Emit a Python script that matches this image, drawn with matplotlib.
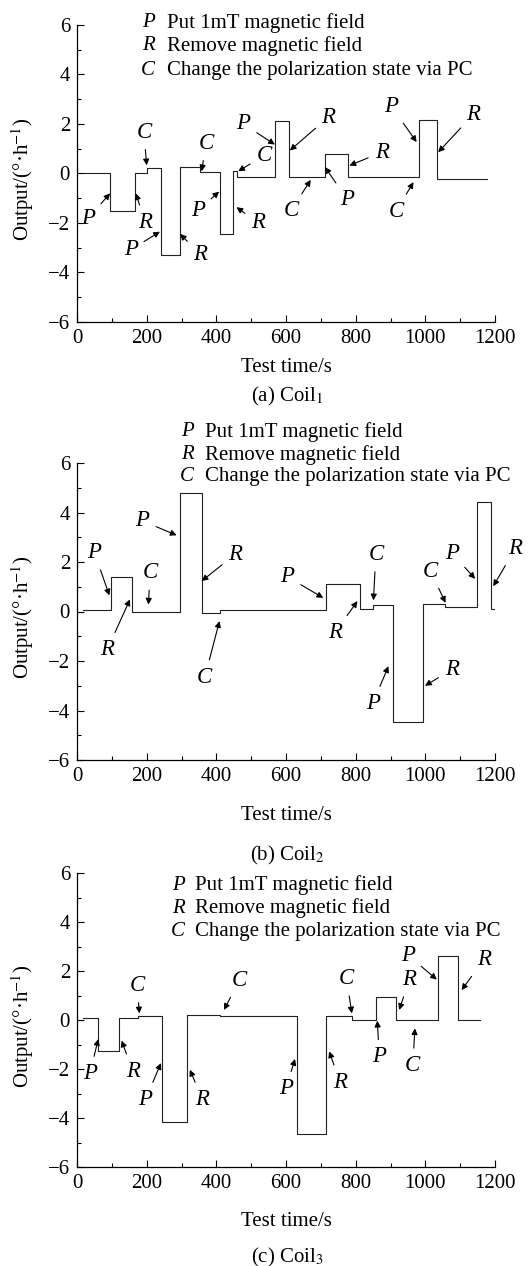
import numpy as np
import matplotlib
matplotlib.use("Agg")
import matplotlib.pyplot as plt
from matplotlib.ticker import MultipleLocator

plt.rcParams['font.family'] = ['Liberation Serif', 'DejaVu Serif']
plt.rcParams['mathtext.fontset'] = 'stix'
plt.rcParams['font.size'] = 15

# ---- data: step traces (breakpoints in s, level between consecutive breaks) ----
coil1_breaks = [18, 95, 167, 200, 240, 297, 353, 410, 447, 460, 568, 610, 712, 777, 982, 1034, 1178]
coil1_levels = [0.0, -1.5, 0.02, 0.22, -3.28, 0.25, 0.05, -2.45, 0.1, -0.13, 2.12, -0.15, 0.8, -0.15, 2.15, -0.22]

coil2_breaks = [16, 97, 157, 296, 358, 410, 714, 812, 851, 908, 994, 1056, 1147, 1188, 1196]
coil2_levels = [0.05, 1.4, 0.0, 4.8, -0.05, 0.07, 1.12, 0.12, 0.25, -4.48, 0.3, 0.18, 4.42, 0.1]

coil3_breaks = [16, 61, 122, 176, 245, 317, 410, 631, 715, 789, 858, 916, 1035, 1095, 1157]
coil3_levels = [0.08, -1.25, 0.07, 0.18, -4.15, 0.2, 0.15, -4.65, 0.15, 0.0, 0.92, 0.0, 2.62, 0.0]

# ---- annotations: label, text position (s, value), arrow tip (s, value) ----
coil1_marks = ['P', 'R', 'C', 'P', 'R', 'C', 'P', 'R', 'C', 'P', 'R', 'C', 'P', 'R', 'P', 'R', 'C']
coil1_text = [(33, -1.8), (195, -1.97), (192, 1.67), (154, -3.09), (353, -3.27), (370, 1.23),
              (348, -1.5), (520, -2.0), (537, 0.73), (478, 2.0), (722, 2.28), (614, -1.5),
              (776, -1.06), (875, 0.86), (903, 2.71), (1138, 2.39), (916, -1.52)]
coil1_tip = [(95, -0.8), (169, -0.8), (200, 0.33), (238, -2.35), (296, -2.44), (358, 0.09),
             (408, -0.73), (458, -1.36), (463, 0.09), (568, 1.17), (611, 0.93), (671, -0.26),
             (712, 0.26), (782, 0.32), (975, 1.27), (1037, 0.86), (966, -0.35)]

coil2_marks = ['P', 'R', 'C', 'P', 'R', 'C', 'P', 'R', 'C', 'P', 'R', 'C', 'P', 'R']
coil2_text = [(50, 2.38), (87, -1.54), (210, 1.57), (188, 3.66), (454, 2.31), (367, -2.65),
              (604, 1.4), (741, -0.84), (858, 2.31), (849, -3.72), (1076, -2.35), (1015, 1.63),
              (1077, 2.35), (1258, 2.54)]
coil2_tip = [(93, 0.65), (152, 0.49), (205, 0.28), (286, 3.08), (358, 1.23), (409, -0.39),
             (707, 0.55), (805, 0.42), (851, 0.45), (894, -2.21), (999, -3.0), (1058, 0.35),
             (1143, 1.32), (1195, 1.02)]

coil3_marks = ['P', 'R', 'C', 'P', 'R', 'C', 'P', 'R', 'C', 'P', 'R', 'C', 'P', 'R']
coil3_text = [(37, -2.19), (160, -2.09), (173, 1.42), (197, -3.24), (360, -3.24), (466, 1.62),
              (599, -2.81), (755, -2.54), (774, 1.69), (868, -1.51), (954, 1.65), (964, -1.86),
              (951, 2.64), (1168, 2.46)]
coil3_tip = [(61, -0.78), (128, -0.84), (179, 0.27), (241, -1.76), (324, -2.03), (422, 0.41),
             (626, -1.59), (724, -1.28), (789, 0.27), (862, -0.03), (925, 0.41), (970, -0.34),
             (1033, 1.65), (1104, 1.22)]

legend_keys = ['P', 'R', 'C']
legend_desc = ['Put 1mT magnetic field', 'Remove magnetic field',
               'Change the polarization state via PC']
captions = ['(a) Coil$_1$', '(b) Coil$_2$', '(c) Coil$_3$']

W, H = 532, 1266
fig = plt.figure(figsize=(W / 100, H / 100), dpi=100)


def fx(px):
    return px / W


def fy(py):
    return 1 - py / H


panels = [
    dict(breaks=coil1_breaks, levels=coil1_levels, marks=coil1_marks, text=coil1_text, tip=coil1_tip,
         top=25, bottom=322, leg_x=(148, 167), leg_y=(22.7, 46, 70.7), xlab_y=368, cap_y=396),
    dict(breaks=coil2_breaks, levels=coil2_levels, marks=coil2_marks, text=coil2_text, tip=coil2_tip,
         top=463, bottom=760, leg_x=(187, 205), leg_y=(431.7, 455, 476.7), xlab_y=815, cap_y=855),
    dict(breaks=coil3_breaks, levels=coil3_levels, marks=coil3_marks, text=coil3_text, tip=coil3_tip,
         top=873, bottom=1167, leg_x=(178, 195), leg_y=(885, 908.3, 931.7), xlab_y=1222, cap_y=1257),
]

left, right = 77, 495
for i, p in enumerate(panels):
    ax = fig.add_axes([fx(left), fy(p['bottom']), fx(right - left), (p['bottom'] - p['top']) / H])

    # step trace
    b = np.array(p['breaks'], dtype=float)
    lv = np.array(p['levels'], dtype=float)
    xs = np.repeat(b, 2)[1:-1]
    ys = np.repeat(lv, 2)
    ax.plot(xs, ys, color='#222222', lw=0.8)

    ax.set_xlim(0, 1200)
    ax.set_ylim(-6, 6)
    ax.xaxis.set_major_locator(MultipleLocator(200))
    ax.xaxis.set_minor_locator(MultipleLocator(100))
    ax.yaxis.set_major_locator(MultipleLocator(2))
    ax.yaxis.set_minor_locator(MultipleLocator(1))
    ax.tick_params(which='both', direction='in', top=False, right=False, width=0.8, labelsize=15)
    ax.tick_params(which='major', length=5, pad=5)
    ax.tick_params(which='minor', length=3)
    for s in ['top', 'right']:
        ax.spines[s].set_visible(False)
    for s in ['left', 'bottom']:
        ax.spines[s].set_linewidth(0.9)

    for lab, (tx, ty), (ax_, ay) in zip(p['marks'], p['text'], p['tip']):
        ax.annotate(lab, xy=(ax_, ay), xytext=(tx, ty), ha='center', va='center',
                    fontstyle='italic', fontsize=16.5, annotation_clip=False,
                    arrowprops=dict(arrowstyle='-|>', color='black', lw=0.8,
                                    mutation_scale=9, shrinkA=3, shrinkB=0))

    # legend text block
    for k, d, yy in zip(legend_keys, legend_desc, p['leg_y']):
        fig.text(fx(p['leg_x'][0]), fy(yy), k, ha='center', va='center', fontstyle='italic', fontsize=15)
        fig.text(fx(p['leg_x'][1]), fy(yy), d, ha='left', va='center', fontsize=15)

    fig.text(fx(23), fy((p['top'] + p['bottom']) / 2 + 6), 'Output/(°·h$^{-1}$)', rotation=90,
             ha='center', va='center', fontsize=15)
    fig.text(fx(286), fy(p['xlab_y']), 'Test time/s', ha='center', va='center', fontsize=15)
    fig.text(fx(287), fy(p['cap_y']), captions[i], ha='center', va='center', fontsize=15)

fig.savefig('out.png', dpi=100)
